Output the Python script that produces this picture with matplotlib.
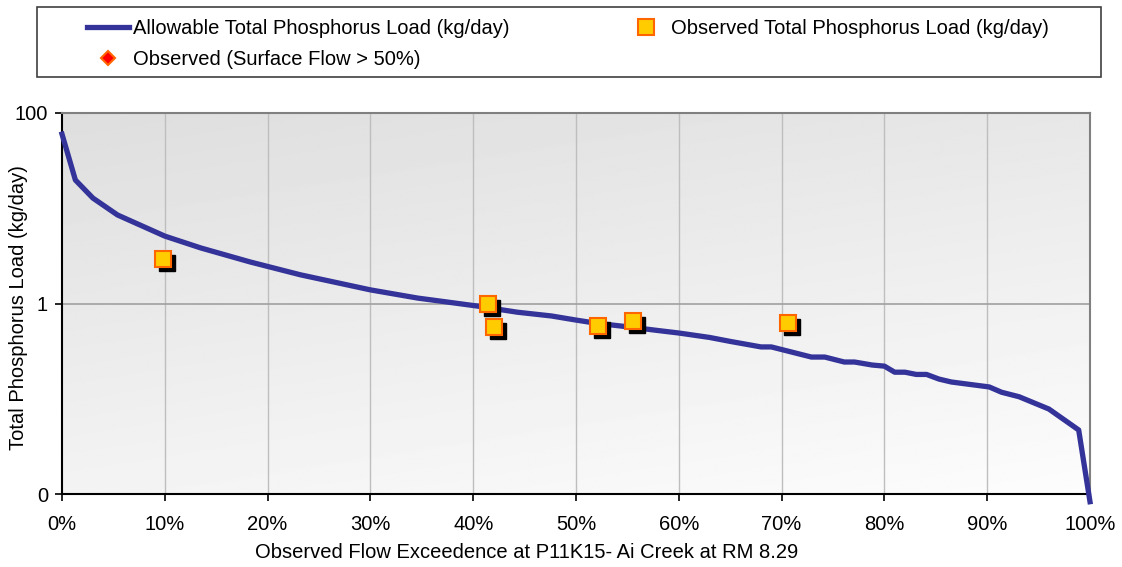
import numpy as np
import matplotlib
matplotlib.use("Agg")
import matplotlib.pyplot as plt
import matplotlib.transforms as mtransforms
from matplotlib.patches import Rectangle
from matplotlib.ticker import FixedLocator, FuncFormatter

plt.rcParams['font.family'] = ['Liberation Sans', 'DejaVu Sans']

# allowable load duration curve (percent exceedance, kg/day)
curve_pct = [0, 1.3, 3, 5.4, 10, 13.5, 18.3, 23.2, 30, 34.6, 40.4, 44.3, 47.6, 50,
             52, 55, 58, 60, 63, 65, 68, 69, 72.9, 74.2, 76.1, 77.1, 78.8, 80,
             81, 82, 83.1, 84.1, 85.3, 86.5, 90.2, 91.4, 93.1, 96, 98.9, 100]
curve_load = [60, 19.8, 12.8, 8.5, 5.1, 3.83, 2.73, 2.0, 1.39, 1.14, 0.94, 0.81, 0.74, 0.67,
              0.62, 0.57, 0.52, 0.49, 0.44, 0.40, 0.35, 0.35, 0.274, 0.274, 0.243, 0.243, 0.226, 0.22,
              0.19, 0.19, 0.18, 0.18, 0.161, 0.15, 0.133, 0.117, 0.105, 0.078, 0.047, 0.0083]

# observed loads
obs_pct = [9.8, 41.4, 42.0, 52.1, 55.5, 70.6]
obs_load = [2.93, 0.99, 0.57, 0.58, 0.65, 0.62]

# observed with surface flow > 50% (none)
surf_pct = []
surf_load = []

FS = 14.5

fig = plt.figure(figsize=(11.22, 5.67), dpi=100)
ax = fig.add_axes([62/1122, 1-494/567, 1028/1122, 381/567])

# gradient background
xx, yy = np.meshgrid(np.linspace(0, 1, 200), np.linspace(0, 1, 200))
grad = 0.87 + 0.12*(0.7*yy + 0.3*xx)
ax.imshow(grad, cmap='gray', vmin=0, vmax=1, extent=[0, 1, 0, 1], origin='upper',
          transform=ax.transAxes, aspect='auto', zorder=0)

ax.set_yscale('log')
ax.set_xlim(0, 100)
ax.set_ylim(0.01, 100)

for x in range(10, 100, 10):
    ax.axvline(x, color='#bebebe', lw=1, zorder=1)
ax.axhline(1, color='#a0a0a0', lw=1.2, zorder=1)

line, = ax.plot(curve_pct, curve_load, color='#333399', lw=3.8, zorder=3, clip_on=False,
                solid_joinstyle='round', label='Allowable Total Phosphorus Load (kg/day)')

shadow = mtransforms.offset_copy(ax.transData, fig=fig, x=3, y=-3, units='points')
ax.plot(obs_pct, obs_load, 's', ms=12, color='black', transform=shadow, zorder=4)
sq, = ax.plot(obs_pct, obs_load, 's', ms=12, mfc='#FFCC00', mec='#FF6600', mew=1.5,
              zorder=5, label='Observed Total Phosphorus Load (kg/day)')
dm, = ax.plot(surf_pct, surf_load, 'D', ms=7, mfc='#FF0000', mec='#FF6600', mew=1.5,
              label='Observed (Surface Flow > 50%)')

ax.xaxis.set_major_locator(FixedLocator(range(0, 101, 10)))
ax.xaxis.set_major_formatter(FuncFormatter(lambda v, p: '%d%%' % v))
ax.yaxis.set_major_locator(FixedLocator([0.01, 1, 100]))
ax.yaxis.set_minor_locator(FixedLocator([]))
ax.yaxis.set_major_formatter(FuncFormatter(lambda v, p: '%d' % round(v)))
ax.tick_params(axis='both', labelsize=FS, direction='out', length=5, width=1.2, color='black')
ax.tick_params(axis='x', pad=10)
ax.tick_params(axis='y', pad=5)

for s in ['left', 'bottom']:
    ax.spines[s].set_color('black')
    ax.spines[s].set_linewidth(1.5)
for s in ['top', 'right']:
    ax.spines[s].set_color('#808080')
    ax.spines[s].set_linewidth(1.5)

ax.set_xlabel('Observed Flow Exceedence at P11K15- Ai Creek at RM 8.29', fontsize=FS)
ax.xaxis.set_label_coords(0.452, -0.128)
ax.set_ylabel('Total Phosphorus Load (kg/day)', fontsize=FS)
ax.yaxis.set_label_coords(-0.033, 0.49)

# legend frame and entries
fig.patches.append(Rectangle((37/1122, 1-77/567), 1064/1122, 70/567, transform=fig.transFigure,
                             fill=False, edgecolor='#404040', lw=1.2))
leg = fig.legend(handles=[line, dm, sq], labels=[h.get_label() for h in [line, dm, sq]],
                 ncol=2, loc='upper left', bbox_to_anchor=(87/1122, 1-19/567),
                 fontsize=FS, frameon=False,
                 handlelength=2.1, handletextpad=0.2, columnspacing=5.7, labelspacing=0.62,
                 borderpad=0, borderaxespad=0)

fig.savefig('out.png', dpi=100)
